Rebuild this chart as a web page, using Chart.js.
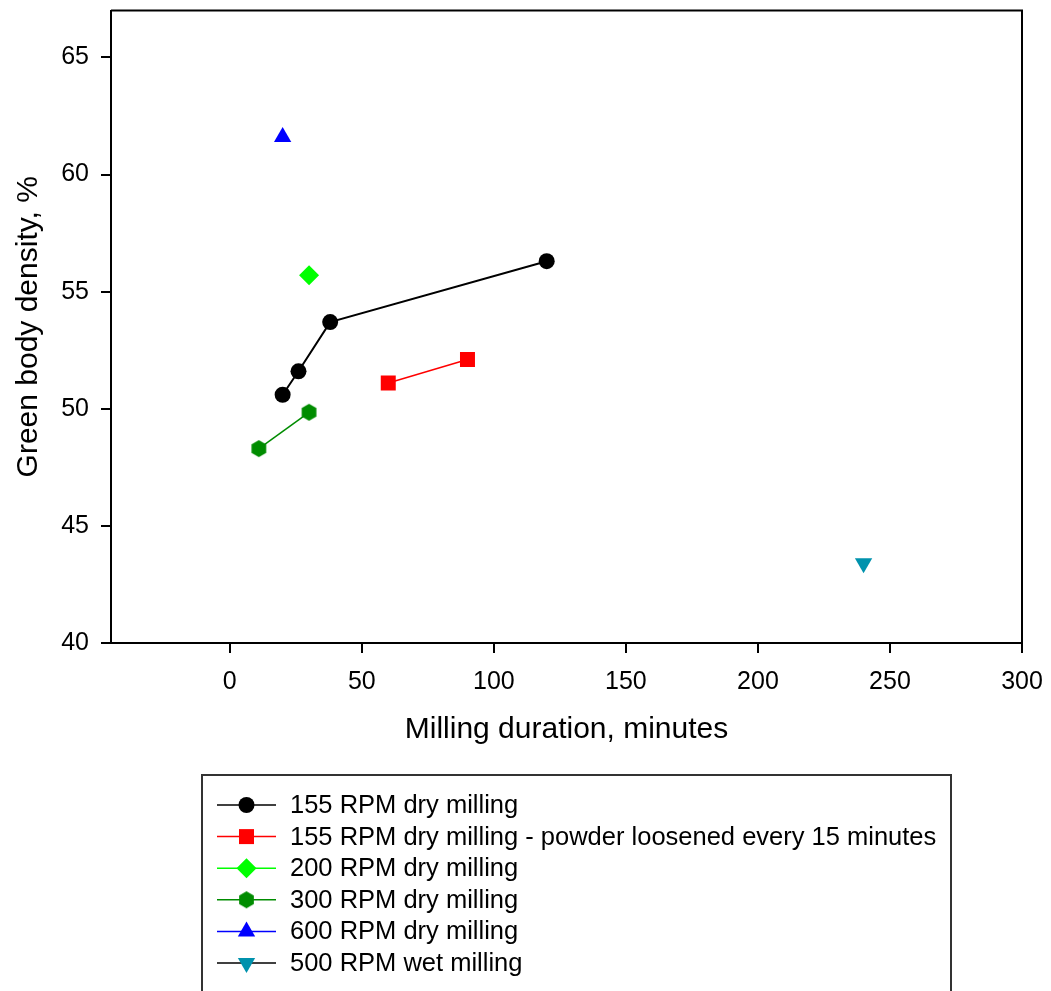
<!DOCTYPE html>
<html>
<head>
<meta charset="utf-8">
<script src="https://cdn.jsdelivr.net/npm/chart.js@4"></script>
<style>
  html, body { margin: 0; padding: 0; background: #fff; }
  canvas { display: block; }
</style>
</head>
<body>
<canvas id="densityChart" width="1051" height="991"></canvas>
<script>
// values
const seriesLabels = [
    '155 RPM dry milling',
    '155 RPM dry milling - powder loosened every 15 minutes',
    '200 RPM dry milling',
    '300 RPM dry milling',
    '600 RPM dry milling',
    '500 RPM wet milling'
];
const rpm155X = [20, 26, 38, 120];
const rpm155Y = [50.6, 51.6, 53.7, 56.3];
const rpm155LooseX = [60, 90];
const rpm155LooseY = [51.1, 52.1];
const rpm200X = [30];
const rpm200Y = [55.7];
const rpm300X = [11, 30];
const rpm300Y = [48.3, 49.85];
const rpm600X = [20];
const rpm600Y = [61.6];
const wet500X = [240];
const wet500Y = [43.4];

const xTicks = [0, 50, 100, 150, 200, 250, 300];
const yTicks = [40, 45, 50, 55, 60, 65];

const canvas = document.getElementById('densityChart');
Chart.defaults.font.family = "'Liberation Sans', Arial, sans-serif";
Chart.defaults.color = '#000';

// hexagon marker (Chart.js has no built-in one)
function makeHexagon(color, r) {
    const c = document.createElement('canvas');
    const size = Math.ceil(r * 2) + 2;
    c.width = size;
    c.height = size;
    const ctx = c.getContext('2d');
    ctx.fillStyle = color;
    ctx.beginPath();
    for (let i = 0; i < 6; i++) {
        const a = Math.PI / 2 + i * Math.PI / 3;
        const px = size / 2 + r * Math.cos(a);
        const py = size / 2 - r * Math.sin(a);
        if (i === 0) ctx.moveTo(px, py); else ctx.lineTo(px, py);
    }
    ctx.closePath();
    ctx.fill();
    return c;
}

function toPoints(xs, ys) {
    return xs.map((x, i) => ({ x: x, y: ys[i] }));
}

function makeSeries(label, xs, ys, color, lineColor, style, radius, rotation, lineWidth) {
    return {
        label: label,
        data: toPoints(xs, ys),
        showLine: true,
        borderColor: lineColor,
        backgroundColor: color,
        borderWidth: lineWidth,
        pointStyle: style,
        pointRadius: radius,
        pointRotation: rotation,
        pointBorderWidth: 0,
        pointBackgroundColor: color,
        legendLine: lineColor
    };
}

const hexIcon = makeHexagon('#008c00', 8.5);

const datasets = [
    makeSeries(seriesLabels[0], rpm155X, rpm155Y, '#000000', '#000000', 'circle', 8, 0, 2),
    makeSeries(seriesLabels[1], rpm155LooseX, rpm155LooseY, '#ff0000', '#ff0000', 'rect', 10.6, 0, 1.5),
    makeSeries(seriesLabels[2], rpm200X, rpm200Y, '#00ff00', '#00ff00', 'rectRot', 10, 0, 1.5),
    makeSeries(seriesLabels[3], rpm300X, rpm300Y, '#008c00', '#008c00', hexIcon, 9, 0, 1.5),
    makeSeries(seriesLabels[4], rpm600X, rpm600Y, '#0000ff', '#0000ff', 'triangle', 10, 0, 1.5),
    makeSeries(seriesLabels[5], wet500X, wet500Y, '#0092ad', '#000000', 'triangle', 10, 180, 1.5)
];

// top and right frame lines
const framePlugin = {
    id: 'frame',
    afterDatasetsDraw(chart) {
        const { ctx, chartArea: a } = chart;
        ctx.save();
        ctx.strokeStyle = '#000';
        ctx.lineWidth = 2;
        ctx.beginPath();
        ctx.moveTo(a.left, a.top);
        ctx.lineTo(a.right, a.top);
        ctx.lineTo(a.right, a.bottom);
        ctx.stroke();
        ctx.restore();
    }
};

// boxed legend under the plot: line + marker + text
const boxLegendPlugin = {
    id: 'boxLegend',
    afterDraw(chart) {
        const ctx = chart.ctx;
        const boxLeft = 202, boxTop = 775, boxRight = 951;
        const rowTop = 805, rowStep = 31.6;
        ctx.save();
        ctx.strokeStyle = '#333';
        ctx.lineWidth = 2;
        ctx.strokeRect(boxLeft, boxTop, boxRight - boxLeft, 300);
        ctx.font = "25.5px 'Liberation Sans', Arial, sans-serif";
        ctx.textBaseline = 'middle';
        ctx.textAlign = 'left';
        chart.data.datasets.forEach((ds, i) => {
            const y = rowTop + i * rowStep;
            ctx.strokeStyle = ds.legendLine;
            ctx.lineWidth = 1.5;
            ctx.beginPath();
            ctx.moveTo(217, y);
            ctx.lineTo(276, y);
            ctx.stroke();
            ctx.fillStyle = ds.backgroundColor;
            Chart.helpers.drawPoint(ctx, {
                pointStyle: ds.pointStyle,
                radius: ds.pointRadius,
                rotation: ds.pointRotation,
                borderWidth: 0
            }, 246.5, y);
            ctx.fillStyle = '#000';
            ctx.fillText(ds.label, 290, y + 1);
        });
        ctx.restore();
    }
};

// keep the plot box fixed: no extra room reserved for end labels
function noEdgePadding(s) {
    s.paddingTop = 0;
    s.paddingBottom = 0;
    s.paddingLeft = 0;
    s.paddingRight = 0;
}

new Chart(canvas, {
    type: 'scatter',
    data: { datasets: datasets },
    options: {
        responsive: false,
        animation: false,
        events: [],
        layout: { padding: { top: 6, right: 29, bottom: 238, left: 0 } },
        plugins: {
            legend: { display: false },
            tooltip: { enabled: false }
        },
        scales: {
            x: {
                type: 'linear',
                min: -45,
                max: 300,
                afterBuildTicks: s => { s.ticks = xTicks.map(v => ({ value: v })); },
                afterFit: s => { s.height = 110; noEdgePadding(s); },
                grid: { drawOnChartArea: false, tickLength: 10, lineWidth: 2, color: '#000' },
                border: { display: true, color: '#000', width: 2 },
                ticks: { font: { size: 25 }, color: '#000', padding: 14, maxRotation: 0, autoSkip: false },
                title: {
                    display: true,
                    text: 'Milling duration, minutes',
                    font: { size: 30 },
                    color: '#000',
                    padding: { top: 0, bottom: 5 }
                }
            },
            y: {
                type: 'linear',
                min: 40,
                max: 67,
                afterBuildTicks: s => { s.ticks = yTicks.map(v => ({ value: v })); },
                afterFit: s => { s.width = 111; noEdgePadding(s); },
                grid: { drawOnChartArea: false, tickLength: 10, lineWidth: 2, color: '#000' },
                border: { display: true, color: '#000', width: 2 },
                ticks: { font: { size: 25 }, color: '#000', padding: 12, autoSkip: false },
                title: {
                    display: true,
                    text: 'Green body density, %',
                    font: { size: 30 },
                    color: '#000',
                    padding: { top: 11, bottom: 0 }
                }
            }
        }
    },
    plugins: [framePlugin, boxLegendPlugin]
});
</script>
</body>
</html>
